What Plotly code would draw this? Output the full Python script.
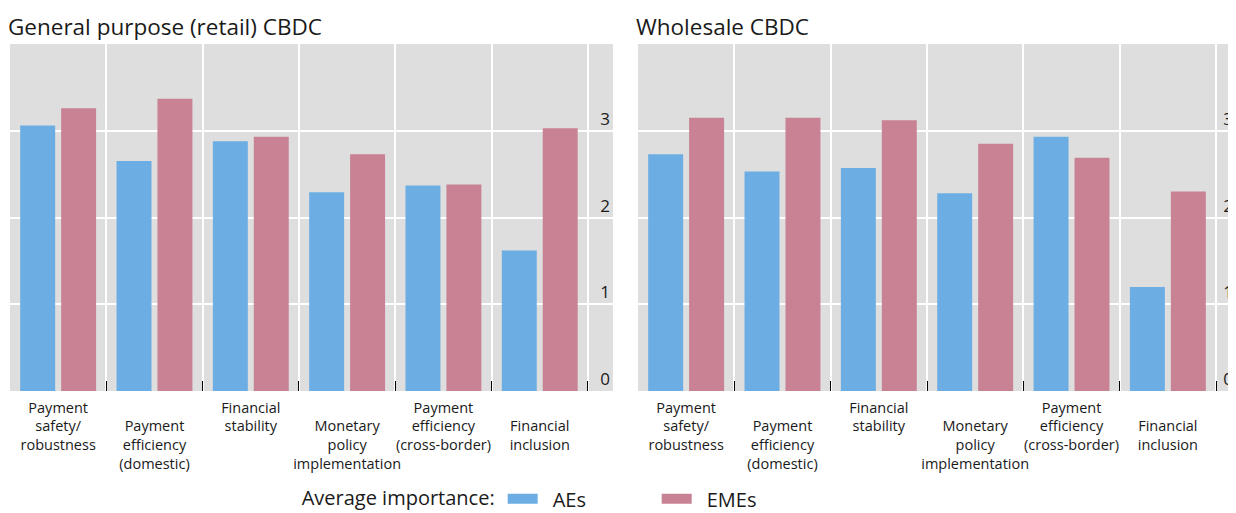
import plotly.graph_objects as go

# ---- data ----
categories = [
    "Payment<br>safety/<br>robustness",
    "\u00a0<br>Payment<br>efficiency<br>(domestic)",
    "Financial<br>stability",
    "\u00a0<br>Monetary<br>policy<br>implementation",
    "Payment<br>efficiency<br>(cross-border)",
    "\u00a0<br>Financial<br>inclusion",
]
retail_aes = [3.06, 2.65, 2.88, 2.29, 2.37, 1.62]
retail_emes = [3.26, 3.37, 2.93, 2.73, 2.38, 3.03]
wholesale_aes = [2.73, 2.53, 2.57, 2.28, 2.93, 1.20]
wholesale_emes = [3.15, 3.15, 3.12, 2.85, 2.69, 2.30]
y_ticks = [0, 1, 2, 3]
panel_titles = ["General purpose (retail) CBDC", "Wholesale CBDC"]
series_names = ["AEs", "EMEs"]

BLUE = "#6caee3"
PINK = "#c88293"
BG = "#dedede"
TXT = "#1a1a1a"
FONT = "Open Sans"

fig = go.Figure()

for (aes, emes, xa, ya) in [(retail_aes, retail_emes, "x", "y"),
                            (wholesale_aes, wholesale_emes, "x2", "y2")]:
    fig.add_trace(go.Bar(x=categories, y=aes, marker=dict(color=BLUE, line=dict(width=0)),
                         xaxis=xa, yaxis=ya, showlegend=False, name=series_names[0]))
    fig.add_trace(go.Bar(x=categories, y=emes, marker=dict(color=PINK, line=dict(width=0)),
                         xaxis=xa, yaxis=ya, showlegend=False, name=series_names[1]))

# legend proxies (wide swatches)
for name, col in zip(series_names, [BLUE, PINK]):
    fig.add_trace(go.Scatter(x=[None], y=[None], mode="lines", name="\u2002" + name,
                             line=dict(color=col, width=13), xaxis="x", yaxis="y"))

xcommon = dict(type="category", tickson="boundaries", ticks="inside", ticklen=10,
               tickcolor="black", tickwidth=1, showgrid=True, gridcolor="white",
               gridwidth=2, showline=False, zeroline=False, tickangle=0, automargin=False,
               ticklabelstandoff=6,
               tickfont=dict(family=FONT, size=14.5, color=TXT), fixedrange=True)
ycommon = dict(range=[0, 4], tickvals=y_ticks, side="right", ticklabelposition="inside top",
               showgrid=True, gridcolor="white", gridwidth=2, zeroline=False, automargin=False,
               showline=False, ticks="", tickfont=dict(family=FONT, size=17, color=TXT))

# page body has an 8px default margin: figure is sized to fill the rest of the window
fig.update_layout(
    width=1228, height=505,
    margin=dict(l=2, r=0, t=36, b=122, autoexpand=False),
    paper_bgcolor="white", plot_bgcolor=BG,
    barmode="group", bargap=0.15, bargroupgap=0.146,
    font=dict(family=FONT, color=TXT),
    xaxis=dict(domain=[0, 0.4918], range=[-0.5, 5.76], anchor="y", **xcommon),
    xaxis2=dict(domain=[0.5122, 1], range=[-0.5, 5.707], anchor="y2", **xcommon),
    yaxis=dict(anchor="x", **ycommon),
    yaxis2=dict(anchor="x2", **ycommon),
    legend=dict(orientation="h", xref="container", yref="container",
                x=0.2375, y=0.028, xanchor="left", yanchor="middle",
                title=dict(text="Average importance:", side="left",
                           font=dict(family=FONT, size=20, color=TXT)),
                font=dict(family=FONT, size=20, color=TXT),
                entrywidth=109, bgcolor="rgba(0,0,0,0)"),
    showlegend=True,
)

for i, t in enumerate(panel_titles):
    suffix = "" if i == 0 else "2"
    fig.add_annotation(text=t, x=0, y=1, xref=f"x{suffix} domain", yref=f"y{suffix} domain",
                       xanchor="left", yanchor="bottom", showarrow=False, xshift=-4, yshift=0,
                       font=dict(family=FONT, size=22.5, color=TXT))

fig.write_html("out.html")
